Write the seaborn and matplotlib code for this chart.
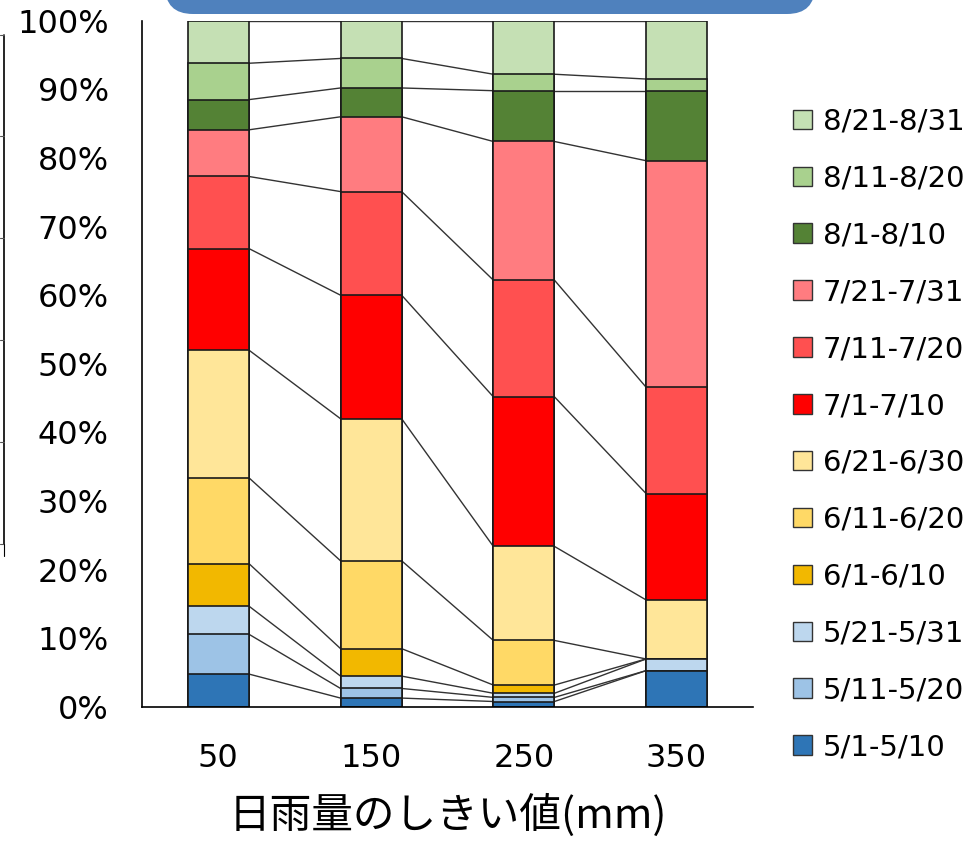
import numpy as np
import pandas as pd
import matplotlib
matplotlib.use("Agg")
import matplotlib.pyplot as plt
from matplotlib.patches import Patch, FancyBboxPatch
from matplotlib.lines import Line2D
import seaborn as sns

# Daily-rainfall thresholds (mm) and share of events per 10-day period (%)
thresholds = ["50", "150", "250", "350"]
periods = ["5/1-5/10", "5/11-5/20", "5/21-5/31",
           "6/1-6/10", "6/11-6/20", "6/21-6/30",
           "7/1-7/10", "7/11-7/20", "7/21-7/31",
           "8/1-8/10", "8/11-8/20", "8/21-8/31"]
share_50 = [4.8, 5.8, 4.1, 6.2, 12.5, 18.6, 14.8, 10.5, 6.8, 4.4, 5.3, 6.2]
share_150 = [1.3, 1.4, 1.8, 4.0, 12.8, 20.7, 18.0, 15.1, 10.9, 4.2, 4.3, 5.5]
share_250 = [0.8, 0.6, 0.6, 1.2, 6.5, 13.7, 21.8, 17.0, 20.2, 7.4, 2.4, 7.8]
share_350 = [5.3, 0.0, 1.7, 0.0, 0.0, 8.6, 15.5, 15.5, 33.0, 10.2, 1.7, 8.5]
colors = ["#2E75B6", "#9DC3E6", "#BDD7EE",
          "#F2B800", "#FFD966", "#FFE699",
          "#FF0000", "#FF5050", "#FF7C80",
          "#548235", "#A9D18E", "#C5E0B4"]

sns.set_style("white")
plt.rcParams["font.family"] = ["DejaVu Sans", "Noto Sans CJK JP"]
plt.rcParams["text.color"] = "black"
plt.rcParams["xtick.color"] = "black"
plt.rcParams["ytick.color"] = "black"
plt.rcParams["axes.labelcolor"] = "black"

shares = np.array([share_50, share_150, share_250, share_350])  # (threshold, period)
shares = shares / shares.sum(axis=1, keepdims=True) * 100
cum = np.cumsum(shares, axis=1)

fig = plt.figure(figsize=(9.74, 8.42), dpi=100)
ax = fig.add_axes([142 / 974, 1 - 707 / 842, (753 - 142) / 974, (707 - 20.7) / 842])

bar_w = 0.40
# Stacked bars: draw cumulative totals from the top series down
for j in range(len(periods) - 1, -1, -1):
    df = pd.DataFrame({"threshold": thresholds, "top": cum[:, j]})
    sns.barplot(data=df, x="threshold", y="top", color=colors[j], width=bar_w,
                edgecolor="#1a1a1a", linewidth=1.2, saturation=1, ax=ax,
                order=thresholds)

# Series lines joining the top of each segment across neighbouring bars
for j in range(len(periods)):
    for i in range(len(thresholds) - 1):
        ax.plot([i + bar_w / 2, i + 1 - bar_w / 2], [cum[i, j], cum[i + 1, j]],
                color="#333333", lw=1.0, zorder=0.5)

ax.set_xlim(-0.5, 3.5)
ax.set_ylim(0, 100)
ax.set_yticks(np.arange(0, 101, 10))
ax.set_yticklabels([f"{v}%" for v in range(0, 101, 10)], fontsize=23)
ax.tick_params(axis="y", direction="out", length=10, width=1.2, pad=14, color="black")

# Category ticks sit between bars; labels are centred under the bars
ax.set_xticks([-0.5, 0.5, 1.5, 2.5, 3.5])
ax.set_xticklabels([])
ax.set_xticks([0, 1, 2, 3], minor=True)
ax.set_xticklabels(thresholds, minor=True, fontsize=23)
ax.tick_params(axis="x", which="major", direction="out", length=12, width=1.2, color="black")
ax.tick_params(axis="x", which="minor", length=0, pad=26)
ax.set_xlabel("日雨量のしきい値(mm)", fontsize=30,
              family=["Noto Sans CJK JP", "DejaVu Sans"], labelpad=14)
ax.set_ylabel("")

for side in ["top", "right"]:
    ax.spines[side].set_visible(False)
for side in ["left", "bottom"]:
    ax.spines[side].set_color("black")
    ax.spines[side].set_linewidth(1.2)

handles = [Patch(facecolor=colors[j], edgecolor="#333333", linewidth=1.0)
           for j in range(len(periods) - 1, -1, -1)]
labels = [periods[j] for j in range(len(periods) - 1, -1, -1)]
fig.legend(handles, labels, loc="upper left", bbox_to_anchor=(781 / 974, 1 - 96 / 842),
           frameon=False, fontsize=21, handlelength=0.65, handleheight=0.65,
           handletextpad=0.38, labelspacing=0.99, borderaxespad=0)

# Title banner across the top edge
banner = FancyBboxPatch((1.65, 8.28), 6.5, 1.2,
                        boxstyle="round,pad=0,rounding_size=0.28",
                        transform=fig.dpi_scale_trans, facecolor="#4F81BD",
                        edgecolor="none", clip_on=False)
fig.add_artist(banner)

# Edge of the neighbouring panel on the left
px = lambda x: x / 974
py = lambda y: 1 - y / 842
fig.add_artist(Line2D([px(4), px(4)], [py(34.5), py(544)], color="black", lw=1.2,
                      transform=fig.transFigure))
for yy in [34.5, 136, 238, 340, 442, 544]:
    fig.add_artist(Line2D([px(0), px(4)], [py(yy), py(yy)], color="#555555", lw=0.8,
                          transform=fig.transFigure))
fig.add_artist(Line2D([px(4), px(4)], [py(544), py(556)], color="black", lw=0.8,
                      transform=fig.transFigure))

fig.savefig("out.png", dpi=100, facecolor="white")
